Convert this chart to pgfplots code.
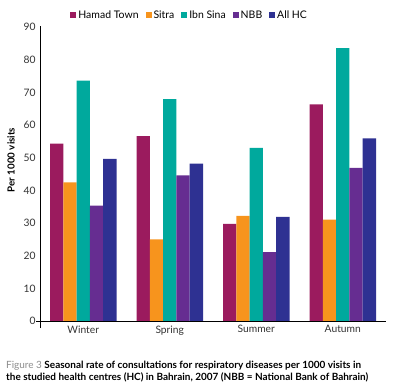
\documentclass[border=0pt]{standalone}
\usepackage{pgfplots}
\pgfplotsset{compat=1.18}
\usepackage{fontspec}
\setmainfont{Lato}
\definecolor{cHam}{HTML}{9B1B5E}
\definecolor{cSit}{HTML}{F7941D}
\definecolor{cIbn}{HTML}{00A99D}
\definecolor{cNBB}{HTML}{662D91}
\definecolor{cAll}{HTML}{2E3192}
\definecolor{capgray}{HTML}{8C8C8C}
\begin{document}
\begin{tikzpicture}
\useasboundingbox (0,0) rectangle (394bp,390bp);
\begin{axis}[
  at={(40bp,69bp)}, anchor=south west,
  scale only axis, width=346bp, height=294bp,
  xmin=-0.5, xmax=3.5, ymin=0, ymax=90,
  ybar=0pt, bar width=13.3bp,
  xtick={0,1,2,3}, xticklabels={Winter,Spring,Summer,Autumn},
  ytick={0,10,...,90},
  major tick length=0pt,
  axis line style={draw=none},
  clip=false,
  tick label style={font=\fontsize{10.3}{11}\selectfont, text=black!80},
  /pgf/number format/assume math mode=true,
  xticklabel style={yshift=-1bp},
  yticklabel style={xshift=-1bp},
  legend style={at={(axis cs:1.23,93.6)}, anchor=center, draw=none, fill=none,
    legend columns=5, font=\fontsize{10.5}{11}\selectfont,
    /tikz/every even column/.append style={column sep=5bp}},
  legend image code/.code={\fill[#1] (0bp,-3bp) rectangle (6bp,3.2bp);},
  legend cell align=left,
]
\addplot[fill=cHam, draw=none] coordinates {(0,54.3) (1,56.6) (2,29.7) (3,66.3)};
\addplot[fill=cSit, draw=none] coordinates {(0,42.4) (1,25.0) (2,32.2) (3,31.0)};
\addplot[fill=cIbn, draw=none] coordinates {(0,73.6) (1,67.9) (2,53.0) (3,83.5)};
\addplot[fill=cNBB, draw=none] coordinates {(0,35.3) (1,44.6) (2,21.1) (3,46.9)};
\addplot[fill=cAll, draw=none] coordinates {(0,49.6) (1,48.2) (2,31.9) (3,55.9)};
\legend{Hamad Town,Sitra,Ibn Sina,NBB,All HC}
\draw[black, line width=0.6bp] (axis cs:-0.5,-2.2) -- (axis cs:-0.5,90.3);
\draw[black, line width=0.6bp] (axis cs:-0.546,0) -- (axis cs:3.5,0);
\end{axis}
\node[rotate=90, font=\bfseries\fontsize{9.8}{11}\selectfont] at (11bp,230bp) {Per 1000 visits};
\node[anchor=north west, inner sep=0pt, align=left, font=\fontsize{10}{11.5}\selectfont] at (6bp,29bp)
  {\textcolor{capgray}{Figure 3} \textbf{Seasonal rate of consultations for respiratory diseases per 1000 visits in}\\
   \textbf{the studied health centres (HC) in Bahrain, 2007 (NBB = National Bank of Bahrain)}};
\end{tikzpicture}
\end{document}
